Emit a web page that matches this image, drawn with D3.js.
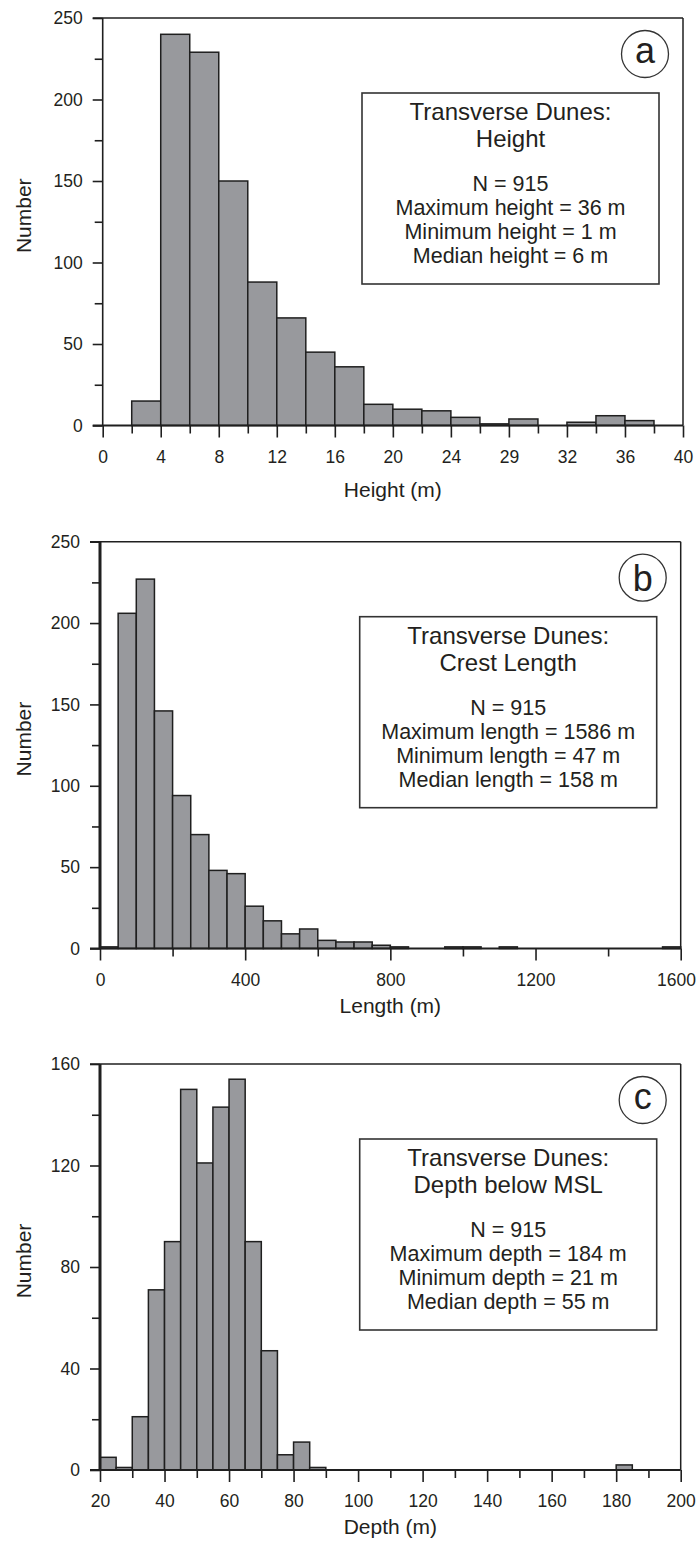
<!DOCTYPE html>
<html>
<head>
<meta charset="utf-8">
<script src="https://cdn.jsdelivr.net/npm/d3@7"></script>
<style>
  body { margin: 0; background: #fff; }
  svg text { font-family: "Liberation Sans", Arial, sans-serif; fill: #231f20; }
</style>
</head>
<body>
<div id="chart"></div>
<script>
// panel a: dune height, bins of 2 m
const heightBinStart = [2, 4, 6, 8, 10, 12, 14, 16, 18, 20, 22, 24, 26, 28, 32, 34, 36];
const heightCounts = [15, 240, 229, 150, 88, 66, 45, 36, 13, 10, 9, 5, 1, 4, 2, 6, 3];
const heightTicks = [0, 4, 8, 12, 16, 20, 24, 28, 32, 36, 40];
const heightTickLabels = ["0", "4", "8", "12", "16", "20", "24", "29", "32", "36", "40"];
const heightMinor = [2, 6, 10, 14, 18, 22, 26, 30, 34, 38];

// panel b: crest length, bins of 50 m
const lengthBinStart = [0, 50, 100, 150, 200, 250, 300, 350, 400, 450, 500, 550, 600, 650, 700, 750, 800, 950, 1000, 1100, 1550];
const lengthCounts = [1, 206, 227, 146, 94, 70, 48, 46, 26, 17, 9, 12, 5, 4, 4, 2, 1, 1, 1, 1, 1];
const lengthTicks = [0, 400, 800, 1200, 1600];
const lengthMinor = [200, 600, 1000, 1400];

// panel c: depth below MSL, bins of 5 m
const depthBinStart = [20, 25, 30, 35, 40, 45, 50, 55, 60, 65, 70, 75, 80, 85, 180];
const depthCounts = [5, 1, 21, 71, 90, 150, 121, 143, 154, 90, 47, 6, 11, 1, 2];
const depthTicks = [20, 40, 60, 80, 100, 120, 140, 160, 180, 200];
const depthMinor = [30, 50, 70, 90, 110, 130, 150, 170, 190];

const countTicks250 = [0, 50, 100, 150, 200, 250];
const countMinor250 = [25, 75, 125, 175, 225];
const countTicks160 = [0, 40, 80, 120, 160];
const countMinor160 = [20, 60, 100, 140];

const panels = [
  {
    label: "a", left: 102.7, right: 683, top: 18, bottom: 425.5,
    xDomain: [0, 40], yDomain: [0, 250], binWidth: 2,
    bins: heightBinStart, counts: heightCounts,
    xTicks: heightTicks, xLabels: heightTickLabels, xMinor: heightMinor,
    yTicks: countTicks250, yMinor: countMinor250,
    xTitle: "Height (m)", xTitleDy: 71, leftWidth: 1.6,
    box: ["Transverse Dunes:", "Height", "N = 915", "Maximum height = 36 m", "Minimum height = 1 m", "Median height = 6 m"]
  },
  {
    label: "b", left: 100, right: 680.7, top: 541.7, bottom: 948.5,
    xDomain: [0, 1600], yDomain: [0, 250], binWidth: 50,
    bins: lengthBinStart, counts: lengthCounts,
    xTicks: lengthTicks, xLabels: null, xMinor: lengthMinor,
    yTicks: countTicks250, yMinor: countMinor250,
    xTitle: "Length (m)", xTitleDy: 64, leftWidth: 3,
    box: ["Transverse Dunes:", "Crest Length", "N = 915", "Maximum length = 1586 m", "Minimum length = 47 m", "Median length = 158 m"]
  },
  {
    label: "c", left: 100, right: 680.7, top: 1064, bottom: 1470,
    xDomain: [20, 200], yDomain: [0, 160], binWidth: 5,
    bins: depthBinStart, counts: depthCounts,
    xTicks: depthTicks, xLabels: null, xMinor: depthMinor,
    yTicks: countTicks160, yMinor: countMinor160,
    xTitle: "Depth (m)", xTitleDy: 64, leftWidth: 3,
    box: ["Transverse Dunes:", "Depth below MSL", "N = 915", "Maximum depth = 184 m", "Minimum depth = 21 m", "Median depth = 55 m"]
  }
];

const svg = d3.select("#chart").append("svg")
  .attr("width", 698)
  .attr("height", 1546);

const ink = "#1f1f1f";
const barFill = "#98999d";

panels.forEach(p => {
  const x = d3.scaleLinear().domain(p.xDomain).range([p.left, p.right]);
  const y = d3.scaleLinear().domain(p.yDomain).range([p.bottom, p.top]);
  const g = svg.append("g");

  // bars
  g.selectAll("rect.bar")
    .data(p.bins.map((b, i) => ({ start: b, count: p.counts[i] })))
    .enter().append("rect")
    .attr("class", "bar")
    .attr("x", d => x(d.start))
    .attr("width", d => x(d.start + p.binWidth) - x(d.start))
    .attr("y", d => y(d.count))
    .attr("height", d => y(0) - y(d.count))
    .attr("fill", barFill)
    .attr("stroke", ink)
    .attr("stroke-width", 1.5);

  // x axis, major + minor
  const xAxis = g.append("g")
    .attr("transform", `translate(0,${p.bottom})`)
    .call(d3.axisBottom(x).tickValues(p.xTicks)
      .tickFormat((d, i) => p.xLabels ? p.xLabels[i] : d)
      .tickSize(12).tickPadding(13).tickSizeOuter(0));
  g.append("g")
    .attr("transform", `translate(0,${p.bottom})`)
    .call(d3.axisBottom(x).tickValues(p.xMinor).tickFormat("").tickSize(8).tickSizeOuter(0));

  // y axis, major + minor
  g.append("g")
    .attr("transform", `translate(${p.left},0)`)
    .call(d3.axisLeft(y).tickValues(p.yTicks).tickSize(10).tickPadding(10).tickSizeOuter(0));
  g.append("g")
    .attr("transform", `translate(${p.left},0)`)
    .call(d3.axisLeft(y).tickValues(p.yMinor).tickFormat("").tickSize(8).tickSizeOuter(0));

  g.selectAll(".domain").remove();
  g.selectAll(".tick line").attr("stroke", ink).attr("stroke-width", 1.6);
  g.selectAll(".tick text").attr("font-size", 17.5).attr("fill", "#231f20")
    .attr("font-family", "Liberation Sans, Arial, sans-serif");

  // keep the last x label inside the page, as the original does
  xAxis.selectAll(".tick text").each(function () {
    const tick = this.parentNode.getAttribute("transform");
    const tx = +tick.match(/translate\(([-\d.]+)/)[1];
    const w = this.getComputedTextLength();
    if (tx + w / 2 > 696) d3.select(this).attr("x", 696 - (tx + w / 2));
  });

  // frame
  g.append("line").attr("x1", p.left - 10).attr("x2", p.right)
    .attr("y1", p.bottom).attr("y2", p.bottom).attr("stroke", ink).attr("stroke-width", 1.8);
  g.append("line").attr("x1", p.left - 10).attr("x2", p.right)
    .attr("y1", p.top).attr("y2", p.top).attr("stroke", ink).attr("stroke-width", 1.5);
  g.append("line").attr("x1", p.right).attr("x2", p.right)
    .attr("y1", p.top).attr("y2", p.bottom).attr("stroke", ink).attr("stroke-width", 1.5);
  g.append("line").attr("x1", p.left).attr("x2", p.left)
    .attr("y1", p.top).attr("y2", p.bottom).attr("stroke", ink).attr("stroke-width", p.leftWidth);

  // axis titles
  g.append("text")
    .attr("x", (p.left + p.right) / 2)
    .attr("y", p.bottom + p.xTitleDy)
    .attr("text-anchor", "middle")
    .attr("font-size", 21)
    .text(p.xTitle);
  g.append("text")
    .attr("transform", `translate(31,${(p.top + p.bottom) / 2 - 6}) rotate(-90)`)
    .attr("text-anchor", "middle")
    .attr("font-size", 21)
    .text("Number");

  // panel letter in a circle
  const cx = p.right - 38, cy = p.top + 36;
  g.append("circle").attr("cx", cx).attr("cy", cy).attr("r", 23.5)
    .attr("fill", "none").attr("stroke", "#333").attr("stroke-width", 1.3);
  g.append("text")
    .attr("x", cx).attr("y", cy)
    .attr("dy", p.label === "b" ? "0.36em" : "0.26em")
    .attr("text-anchor", "middle")
    .attr("font-size", 36)
    .text(p.label);

  // statistics box
  const bw = 297, bh = 191;
  const bx = p.right - 24 - bw, by = p.top + 75;
  g.append("rect").attr("x", bx).attr("y", by).attr("width", bw).attr("height", bh)
    .attr("fill", "#fff").attr("stroke", "#333").attr("stroke-width", 1.6);
  const lineY = [27, 54, 98, 122, 146, 170];
  p.box.forEach((t, i) => {
    g.append("text")
      .attr("x", bx + bw / 2)
      .attr("y", by + lineY[i])
      .attr("text-anchor", "middle")
      .attr("font-size", i < 2 ? 24 : 21.5)
      .text(t);
  });
});
</script>
</body>
</html>
